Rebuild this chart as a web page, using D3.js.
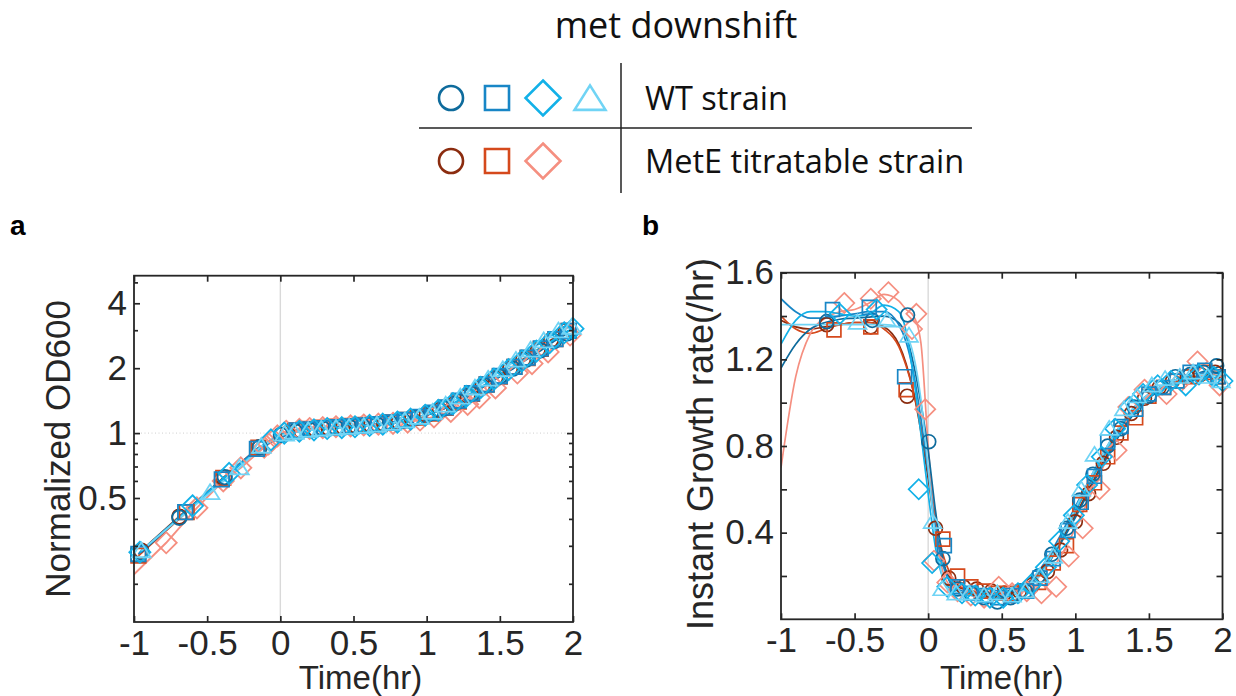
<!DOCTYPE html>
<html>
<head>
<meta charset="utf-8">
<script src="https://cdn.jsdelivr.net/npm/d3@7"></script>
<style>
  body { margin: 0; background: #fff; }
  svg { display: block; }
</style>
</head>
<body>
<div id="chart"></div>
<script>
// met downshift - OD + growth rate, WT vs MetE titratable

// ---- legend / series info ----
const strainNames = ["WT strain", "MetE titratable strain"];
const seriesStrain = [0, 0, 0, 0, 1, 1, 1];
const seriesShape = ["circle", "square", "diamond", "triangle", "circle", "square", "diamond"];
const seriesColor = ["#0e6b9c", "#1886c6", "#12b1e8", "#70d4f5", "#8b2c0f", "#d5491c", "#f58f80"];

// ---- panel a/b sample times (hr), normalized OD600, instant growth rate (/hr) ----
const tWT1 = [-0.95, -0.69, -0.38, -0.14, 0.004, 0.1, 0.2, 0.29, 0.38, 0.47, 0.56, 0.66, 0.75, 0.84, 0.94, 1.03, 1.12, 1.22, 1.31, 1.4, 1.5, 1.59, 1.68, 1.78, 1.87, 1.96];
const odWT1 = [0.28, 0.405, 0.625, 0.86, 0.98, 1.02, 1.035, 1.05, 1.06, 1.07, 1.08, 1.095, 1.115, 1.14, 1.18, 1.235, 1.30, 1.40, 1.52, 1.66, 1.83, 1.99, 2.19, 2.42, 2.67, 2.9];
const grWT1 = [null, 1.374, 1.38, 1.405, 0.82, 0.28, 0.14, 0.12, 0.10, 0.08, 0.10, 0.13, 0.2, 0.30, 0.42, 0.55, 0.67, 0.80, 0.88, 0.98, 1.03, 1.07, 1.12, 1.13, 1.14, 1.17];

const tWT2 = [-0.97, -0.65, -0.40, -0.16, 0.11, 0.2, 0.29, 0.39, 0.48, 0.57, 0.67, 0.76, 0.85, 0.95, 1.04, 1.13, 1.22, 1.31, 1.41, 1.5, 1.6, 1.69, 1.78, 1.88, 1.97];
const odWT2 = [0.275, 0.43, 0.61, 0.845, 1.03, 1.04, 1.055, 1.065, 1.075, 1.085, 1.10, 1.12, 1.15, 1.19, 1.245, 1.315, 1.415, 1.53, 1.68, 1.84, 2.03, 2.24, 2.47, 2.73, 2.98];
const grWT2 = [null, 1.43, 1.44, 1.12, 0.34, 0.15, 0.12, 0.11, 0.10, 0.11, 0.13, 0.19, 0.28, 0.41, 0.54, 0.66, 0.82, 0.89, 0.97, 1.04, 1.07, 1.10, 1.14, 1.15, 1.12];

const tWT3 = [-0.96, -0.6, -0.35, -0.064, 0.027, 0.13, 0.23, 0.32, 0.42, 0.51, 0.61, 0.7, 0.8, 0.89, 0.99, 1.08, 1.18, 1.27, 1.37, 1.46, 1.56, 1.65, 1.75, 1.84, 1.94, 2.0];
const odWT3 = [0.28, 0.46, 0.65, 0.93, 1.0, 1.02, 1.035, 1.05, 1.06, 1.07, 1.085, 1.10, 1.125, 1.16, 1.21, 1.275, 1.37, 1.48, 1.63, 1.78, 1.97, 2.16, 2.40, 2.63, 2.92, 3.05];
const grWT3 = [null, 1.41, 1.43, 0.60, 0.26, 0.15, 0.12, 0.11, 0.10, 0.10, 0.12, 0.16, 0.24, 0.36, 0.48, 0.62, 0.75, 0.88, 0.98, 1.04, 1.08, 1.10, 1.08, 1.13, 1.12, 1.10];

const tWT4 = [-0.95, -0.48, -0.28, -0.13, 0.03, 0.095, 0.19, 0.28, 0.38, 0.47, 0.57, 0.66, 0.76, 0.85, 0.95, 1.04, 1.13, 1.23, 1.33, 1.42, 1.52, 1.61, 1.71, 1.8, 1.9, 1.99];
const odWT4 = [0.285, 0.53, 0.69, 0.87, 0.99, 1.01, 1.03, 1.045, 1.055, 1.065, 1.075, 1.09, 1.11, 1.14, 1.185, 1.25, 1.35, 1.47, 1.62, 1.78, 1.97, 2.18, 2.43, 2.68, 2.98, 3.1];
const grWT4 = [null, 1.37, 1.38, 1.31, 0.45, 0.14, 0.12, 0.12, 0.11, 0.12, 0.11, 0.13, 0.20, 0.29, 0.45, 0.60, 0.76, 0.88, 0.97, 1.03, 1.08, 1.11, 1.12, 1.14, 1.12, 1.10];

const tME1 = [-0.95, -0.69, -0.39, -0.143, 0.05, 0.14, 0.24, 0.33, 0.43, 0.52, 0.62, 0.71, 0.81, 0.9, 1.0, 1.09, 1.19, 1.28, 1.38, 1.47, 1.57, 1.66, 1.76, 1.85, 1.95];
const odME1 = [0.285, 0.41, 0.62, 0.86, 1.0, 1.025, 1.04, 1.055, 1.065, 1.075, 1.085, 1.10, 1.125, 1.16, 1.21, 1.28, 1.37, 1.49, 1.64, 1.80, 1.99, 2.20, 2.44, 2.70, 2.98];
const grME1 = [null, 1.36, 1.35, 1.03, 0.42, 0.19, 0.15, 0.14, 0.13, 0.12, 0.13, 0.16, 0.22, 0.32, 0.45, 0.58, 0.72, 0.84, 0.95, 1.02, 1.07, 1.10, 1.12, 1.13, 1.14];

const tME2 = [-0.97, -0.64, -0.39, -0.15, 0.1, 0.2, 0.29, 0.38, 0.47, 0.56, 0.66, 0.75, 0.85, 0.94, 1.03, 1.13, 1.22, 1.31, 1.41, 1.5, 1.6, 1.69, 1.78, 1.88, 1.97];
const odME2 = [0.27, 0.43, 0.62, 0.855, 1.03, 1.045, 1.06, 1.07, 1.08, 1.09, 1.10, 1.12, 1.15, 1.18, 1.23, 1.31, 1.40, 1.52, 1.68, 1.83, 2.03, 2.23, 2.46, 2.73, 2.98];
const grME2 = [null, 1.336, 1.35, 1.06, 0.37, 0.20, 0.15, 0.13, 0.12, 0.12, 0.13, 0.17, 0.26, 0.34, 0.53, 0.63, 0.75, 0.86, 0.93, 1.03, 1.07, 1.10, 1.12, 1.14, 1.12];

const tME3 = [-1.05, -0.78, -0.57, -0.39, -0.27, -0.11, -0.08, -0.02, 0.04, 0.13, 0.2, 0.29, 0.38, 0.48, 0.57, 0.67, 0.77, 0.87, 0.955, 1.05, 1.165, 1.28, 1.36, 1.47, 1.62, 1.72, 1.83, 1.98];
const odME3 = [0.205, 0.31, 0.45, 0.60, 0.69, 0.86, 0.89, 0.97, 1.02, 1.04, 1.05, 1.06, 1.07, 1.08, 1.09, 1.10, 1.11, 1.125, 1.15, 1.19, 1.26, 1.36, 1.46, 1.62, 1.90, 2.10, 2.38, 2.85];
const grME3 = [null, null, 1.46, 1.48, 1.51, 1.34, 1.41, 0.97, 0.27, 0.17, 0.13, 0.11, 0.10, 0.15, 0.12, 0.13, 0.12, 0.15, 0.29, 0.42, 0.60, 0.78, 0.98, 1.06, 1.04, 1.10, 1.19, 1.08];

// ---- panel b smoothing fits ----
const fitT = [-1, -0.9, -0.8, -0.7, -0.6, -0.5, -0.4, -0.3, -0.2, -0.15, -0.1, -0.05, 0, 0.05, 0.1, 0.15, 0.2, 0.3, 0.4, 0.5, 0.6, 0.7, 0.8, 0.9, 1.0, 1.1, 1.2, 1.3, 1.4, 1.5, 1.6, 1.7, 1.8, 1.9, 2.0];
const fitWT1 = [1.16, 1.27, 1.34, 1.37, 1.385, 1.39, 1.395, 1.40, 1.37, 1.31, 1.18, 1.00, 0.78, 0.50, 0.28, 0.17, 0.13, 0.11, 0.10, 0.10, 0.12, 0.16, 0.24, 0.35, 0.47, 0.60, 0.73, 0.85, 0.95, 1.02, 1.07, 1.11, 1.13, 1.15, 1.17];
const fitWT2 = [1.48, 1.42, 1.39, 1.39, 1.40, 1.41, 1.42, 1.42, 1.36, 1.28, 1.14, 0.93, 0.68, 0.42, 0.25, 0.17, 0.14, 0.12, 0.11, 0.11, 0.13, 0.18, 0.27, 0.39, 0.52, 0.65, 0.78, 0.89, 0.98, 1.04, 1.08, 1.11, 1.13, 1.14, 1.13];
const fitWT3 = [1.27, 1.38, 1.42, 1.42, 1.41, 1.40, 1.41, 1.45, 1.42, 1.33, 1.12, 0.86, 0.58, 0.33, 0.19, 0.14, 0.12, 0.11, 0.10, 0.10, 0.12, 0.17, 0.25, 0.37, 0.50, 0.63, 0.76, 0.88, 0.97, 1.03, 1.07, 1.09, 1.11, 1.12, 1.10];
const fitWT4 = [1.36, 1.36, 1.36, 1.36, 1.36, 1.36, 1.36, 1.36, 1.35, 1.32, 1.22, 1.02, 0.70, 0.38, 0.19, 0.13, 0.12, 0.115, 0.11, 0.11, 0.12, 0.16, 0.24, 0.37, 0.51, 0.65, 0.78, 0.89, 0.98, 1.04, 1.08, 1.11, 1.13, 1.13, 1.11];
const fitME1 = [1.38, 1.35, 1.34, 1.35, 1.36, 1.37, 1.37, 1.35, 1.27, 1.18, 1.05, 0.87, 0.65, 0.42, 0.26, 0.19, 0.15, 0.13, 0.12, 0.12, 0.14, 0.18, 0.25, 0.36, 0.48, 0.61, 0.74, 0.86, 0.96, 1.03, 1.08, 1.11, 1.13, 1.14, 1.14];
const fitME2 = [1.40, 1.34, 1.32, 1.34, 1.36, 1.37, 1.37, 1.34, 1.26, 1.17, 1.05, 0.89, 0.69, 0.47, 0.30, 0.21, 0.16, 0.13, 0.12, 0.12, 0.14, 0.18, 0.26, 0.37, 0.50, 0.63, 0.76, 0.87, 0.96, 1.03, 1.07, 1.10, 1.12, 1.13, 1.12];
const fitME3 = [0.70, 1.12, 1.32, 1.39, 1.42, 1.43, 1.46, 1.50, 1.47, 1.43, 1.40, 1.28, 0.80, 0.40, 0.22, 0.15, 0.12, 0.11, 0.11, 0.11, 0.12, 0.14, 0.19, 0.29, 0.42, 0.57, 0.72, 0.86, 0.97, 1.04, 1.08, 1.11, 1.13, 1.12, 1.10];

// ---- axis ticks ----
const xTicks = [-1, -0.5, 0, 0.5, 1, 1.5, 2];
const yTicksA = [0.5, 1, 2, 4];
const yMinorA = [0.2, 0.3, 0.4, 0.6, 0.7, 0.8, 0.9, 3, 5];
const yTicksB = [0.2, 0.4, 0.6, 0.8, 1.0, 1.2, 1.4, 1.6];
const yLabelsB = [0.4, 0.8, 1.2, 1.6];

// pack series
const times = [tWT1, tWT2, tWT3, tWT4, tME1, tME2, tME3];
const ods = [odWT1, odWT2, odWT3, odWT4, odME1, odME2, odME3];
const rates = [grWT1, grWT2, grWT3, grWT4, grME1, grME2, grME3];
const fits = [fitWT1, fitWT2, fitWT3, fitWT4, fitME1, fitME2, fitME3];
const series = times.map((t, i) => ({
  shape: seriesShape[i], color: seriesColor[i],
  od: t.map((tt, j) => ({ t: tt, v: ods[i][j] })),
  gr: t.map((tt, j) => ({ t: tt, v: rates[i][j] })).filter(d => d.v != null),
  fit: fitT.map((tt, j) => ({ t: tt, v: fits[i][j] }))
}));
// MetE drawn first, WT on top
const drawOrder = [4, 5, 6, 0, 1, 2, 3].map(i => series[i]);

const W = 1236, H = 696;
const axisFont = "'Liberation Sans', Arial, Helvetica, sans-serif";
const legendFont = "'Open Sans', 'Noto Sans', sans-serif";
const ink = "#262626";
const plainNum = d => String(d);   // hyphen minus like the original

const svg = d3.select("#chart").append("svg")
  .attr("width", W).attr("height", H)
  .style("background", "#fff");

function markerPath(shape, k) {
  const p = d3.path();
  if (shape === "circle") {
    const r = 6.6 * k;
    p.moveTo(r, 0); p.arc(0, 0, r, 0, 2 * Math.PI);
  } else if (shape === "square") {
    const s = 6.6 * k;
    p.rect(-s, -s, 2 * s, 2 * s);
  } else if (shape === "diamond") {
    const d = 9.6 * k;
    p.moveTo(0, -d); p.lineTo(d, 0); p.lineTo(0, d); p.lineTo(-d, 0); p.closePath();
  } else {
    const w = 8.5 * k;
    p.moveTo(0, -7.5 * k); p.lineTo(w, 6 * k); p.lineTo(-w, 6 * k); p.closePath();
  }
  return p.toString();
}

// ---- title + legend ----
svg.append("text")
  .attr("x", 676).attr("y", 38)
  .attr("text-anchor", "middle")
  .attr("font-family", legendFont).attr("font-size", 36)
  .attr("fill", "#111")
  .text("met downshift");

const leg = svg.append("g");
leg.append("line").attr("x1", 621).attr("x2", 621).attr("y1", 63).attr("y2", 193)
  .attr("stroke", "#222").attr("stroke-width", 1.5);
leg.append("line").attr("x1", 419).attr("x2", 972).attr("y1", 128).attr("y2", 128)
  .attr("stroke", "#222").attr("stroke-width", 1.5);

const legRowY = [98, 161];
const legX = [451, 497, 543, 590];
series.forEach((s, i) => {
  const row = seriesStrain[i];
  const col = row === 0 ? i : i - 4;
  leg.append("path")
    .attr("transform", `translate(${legX[col]},${legRowY[row] + (s.shape === "triangle" ? 1 : 0)})`)
    .attr("d", markerPath(s.shape, 1.82))
    .attr("fill", "none").attr("stroke", s.color).attr("stroke-width", 2.6);
});
strainNames.forEach((name, r) => {
  leg.append("text")
    .attr("x", 645).attr("y", legRowY[r] + 12)
    .attr("font-family", legendFont).attr("font-size", 32.5)
    .attr("fill", "#111")
    .text(name);
});

// ---- panel helpers ----
function drawFrame(g, x, y) {
  const [x0, x1] = x.range();
  const [y0, y1] = y.range();
  g.append("rect")
    .attr("x", x0).attr("y", y1).attr("width", x1 - x0).attr("height", y0 - y1)
    .attr("fill", "none").attr("stroke", ink).attr("stroke-width", 1.8);
}

function styleAxis(g) {
  g.select(".domain").remove();
  g.selectAll(".tick line").attr("stroke", ink).attr("stroke-width", 1.7);
  g.selectAll(".tick text").attr("fill", ink);
  g.attr("font-family", axisFont).attr("font-size", 35);
}

function addClip(id, x, y) {
  const [x0, x1] = x.range();
  const [y0, y1] = y.range();
  svg.append("clipPath").attr("id", id)
    .append("rect").attr("x", x0).attr("y", y1).attr("width", x1 - x0).attr("height", y0 - y1);
}

const inDomain = (x, d) => d.t >= x.domain()[0] && d.t <= x.domain()[1];

// ================= panel a =================
const xA = d3.scaleLinear().domain([-1, 2]).range([134, 573]);
const yA = d3.scaleLog().domain([0.133, 5.37]).range([622, 275.7]);
addClip("clipA", xA, yA);

const gA = svg.append("g");
gA.append("line").attr("x1", xA(0)).attr("x2", xA(0)).attr("y1", yA.range()[1]).attr("y2", yA.range()[0])
  .attr("stroke", "#d9d9d9").attr("stroke-width", 1.4);
gA.append("line").attr("x1", xA.range()[0]).attr("x2", xA.range()[1]).attr("y1", yA(1)).attr("y2", yA(1))
  .attr("stroke", "#cfcfcf").attr("stroke-width", 1).attr("stroke-dasharray", "1,2.5");

const lineA = d3.line().x(d => xA(d.t)).y(d => yA(d.v));
gA.append("g").attr("clip-path", "url(#clipA)")
  .selectAll("path").data(drawOrder).join("path")
    .attr("d", s => lineA(s.od))
    .attr("fill", "none").attr("stroke", s => s.color).attr("stroke-width", 1.9);

drawOrder.forEach(s => {
  gA.append("g").selectAll("path").data(s.od.filter(d => inDomain(xA, d))).join("path")
    .attr("transform", d => `translate(${xA(d.t)},${yA(d.v)})`)
    .attr("d", markerPath(s.shape, 1.1))
    .attr("fill", "none").attr("stroke", s.color).attr("stroke-width", 1.8);
});

gA.append("g").attr("transform", `translate(0,${yA.range()[0]})`)
  .call(d3.axisBottom(xA).tickValues(xTicks).tickSize(-6).tickPadding(8).tickFormat(plainNum))
  .call(styleAxis);
gA.append("g").attr("transform", `translate(0,${yA.range()[1]})`)
  .call(d3.axisTop(xA).tickValues(xTicks).tickSize(-6).tickFormat(""))
  .call(styleAxis);
gA.append("g").attr("transform", `translate(${xA.range()[0]},0)`)
  .call(d3.axisLeft(yA).tickValues(yTicksA).tickSize(-6).tickPadding(7).tickFormat(plainNum))
  .call(styleAxis);
gA.append("g").attr("transform", `translate(${xA.range()[1]},0)`)
  .call(d3.axisRight(yA).tickValues(yTicksA).tickSize(-6).tickFormat(""))
  .call(styleAxis);
gA.append("g").attr("transform", `translate(${xA.range()[0]},0)`)
  .call(d3.axisLeft(yA).tickValues(yMinorA).tickSize(-4).tickFormat(""))
  .call(styleAxis);
gA.append("g").attr("transform", `translate(${xA.range()[1]},0)`)
  .call(d3.axisRight(yA).tickValues(yMinorA).tickSize(-4).tickFormat(""))
  .call(styleAxis);
drawFrame(gA, xA, yA);

gA.append("text")
  .attr("x", d3.mean(xA.range()) + 7).attr("y", 689)
  .attr("text-anchor", "middle")
  .attr("font-family", axisFont).attr("font-size", 33).attr("fill", ink)
  .text("Time(hr)");
gA.append("text")
  .attr("transform", `translate(70,${d3.mean(yA.range())}) rotate(-90)`)
  .attr("text-anchor", "middle")
  .attr("font-family", axisFont).attr("font-size", 35).attr("fill", ink)
  .text("Normalized OD600");
svg.append("text")
  .attr("x", 10).attr("y", 235)
  .attr("font-family", axisFont).attr("font-size", 28).attr("font-weight", "bold")
  .attr("fill", "#000")
  .text("a");

// ================= panel b =================
const xB = d3.scaleLinear().domain([-1, 2]).range([781, 1222.5]);
const yB = d3.scaleLinear().domain([0, 1.6]).range([619.3, 272.7]);
addClip("clipB", xB, yB);

const gB = svg.append("g");
gB.append("line").attr("x1", xB(0)).attr("x2", xB(0)).attr("y1", yB.range()[1]).attr("y2", yB.range()[0])
  .attr("stroke", "#d9d9d9").attr("stroke-width", 1.4);

const lineB = d3.line().curve(d3.curveMonotoneX).x(d => xB(d.t)).y(d => yB(d.v));
gB.append("g").attr("clip-path", "url(#clipB)")
  .selectAll("path").data(drawOrder).join("path")
    .attr("d", s => lineB(s.fit))
    .attr("fill", "none").attr("stroke", s => s.color).attr("stroke-width", 1.7);

drawOrder.forEach(s => {
  gB.append("g").selectAll("path").data(s.gr).join("path")
    .attr("transform", d => `translate(${xB(d.t)},${yB(d.v)})`)
    .attr("d", markerPath(s.shape, 1.05))
    .attr("fill", "none").attr("stroke", s.color).attr("stroke-width", 1.7);
});

gB.append("g").attr("transform", `translate(0,${yB.range()[0]})`)
  .call(d3.axisBottom(xB).tickValues(xTicks).tickSize(-6).tickPadding(8).tickFormat(plainNum))
  .call(styleAxis);
gB.append("g").attr("transform", `translate(0,${yB.range()[1]})`)
  .call(d3.axisTop(xB).tickValues(xTicks).tickSize(-6).tickFormat(""))
  .call(styleAxis);
gB.append("g").attr("transform", `translate(${xB.range()[0]},0)`)
  .call(d3.axisLeft(yB).tickValues(yTicksB).tickSize(-6).tickPadding(7)
    .tickFormat(d => yLabelsB.some(v => Math.abs(v - d) < 1e-9) ? d3.format(".1f")(d) : ""))
  .call(styleAxis);
gB.append("g").attr("transform", `translate(${xB.range()[1]},0)`)
  .call(d3.axisRight(yB).tickValues(yTicksB).tickSize(-6).tickFormat(""))
  .call(styleAxis);
drawFrame(gB, xB, yB);

gB.append("text")
  .attr("x", d3.mean(xB.range())).attr("y", 689)
  .attr("text-anchor", "middle")
  .attr("font-family", axisFont).attr("font-size", 33).attr("fill", ink)
  .text("Time(hr)");
gB.append("text")
  .attr("transform", `translate(713,${d3.mean(yB.range()) - 2}) rotate(-90)`)
  .attr("text-anchor", "middle")
  .attr("font-family", axisFont).attr("font-size", 36).attr("fill", ink)
  .text("Instant Growth rate(/hr)");
svg.append("text")
  .attr("x", 642).attr("y", 235)
  .attr("font-family", axisFont).attr("font-size", 28).attr("font-weight", "bold")
  .attr("fill", "#000")
  .text("b");
</script>
</body>
</html>
